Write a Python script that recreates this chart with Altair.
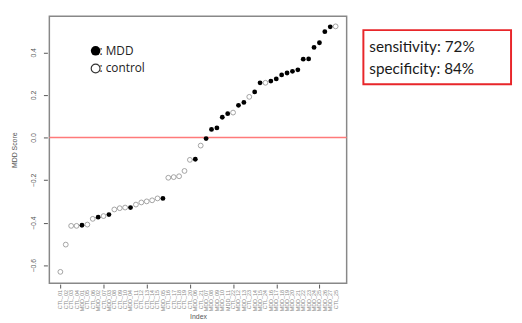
import altair as alt
import pandas as pd

# MDD score per sample, sorted ascending
scores = [-0.631, -0.503, -0.415, -0.415, -0.412, -0.409, -0.382, -0.374, -0.369, -0.362,
          -0.338, -0.332, -0.329, -0.329, -0.315, -0.305, -0.300, -0.295, -0.286, -0.286,
          -0.189, -0.186, -0.182, -0.157, -0.105, -0.102, -0.038, -0.005, 0.038, 0.045,
          0.095, 0.112, 0.117, 0.151, 0.165, 0.191, 0.214, 0.257, 0.257, 0.265,
          0.275, 0.294, 0.303, 0.311, 0.318, 0.368, 0.369, 0.423, 0.445, 0.497,
          0.520, 0.522]
# 1 = MDD (filled), 0 = control (open)
is_mdd = [0, 0, 0, 0, 1, 0, 0, 1, 0, 1,
          0, 0, 0, 1, 0, 0, 0, 0, 0, 1,
          0, 0, 0, 0, 0, 1, 0, 1, 1, 1,
          1, 1, 0, 1, 1, 0, 1, 1, 0, 1,
          1, 1, 1, 1, 1, 1, 1, 1, 1, 1,
          1, 0]
y_ticks = [-0.6, -0.4, -0.2, 0.0, 0.2, 0.4]
legend_labels = [": MDD", ": control"]
stats_text = ["sensitivity: 72%", "specificity: 84%"]

n = len(scores)
index = list(range(1, n + 1))
sample_labels = []
cm, cc = 0, 0
for m in is_mdd:
    if m:
        cm += 1
        sample_labels.append(f"MDD_{cm:02d}")
    else:
        cc += 1
        sample_labels.append(f"CTL_{cc:02d}")

df = pd.DataFrame({"Index": index, "score": scores,
                   "group": ["MDD" if m else "control" for m in is_mdd],
                   "label": sample_labels})

W, H = 302, 271

xscale = alt.Scale(domain=[1 - 0.04 * (n - 1), n + 0.04 * (n - 1)], nice=False, zero=False)
yscale = alt.Scale(domain=[-0.684, 0.569], nice=False, zero=False)

xaxis = alt.Axis(values=index, labels=False,
                 tickSize=4, tickColor="#555", tickWidth=1, offset=1, domain=False, grid=False,
                 title="Index", titleFontSize=7, titleFontWeight="normal", titleColor="#555",
                 titlePadding=24)
yaxis = alt.Axis(values=y_ticks, format=".1f", labelAngle=270, labelAlign="center",
                 labelBaseline="bottom", labelFontSize=7, labelColor="#555", labelPadding=7,
                 tickSize=4, tickColor="#555", offset=2, domain=False, grid=False,
                 title="MDD Score", titleFontSize=7, titleFontWeight="normal", titleColor="#555",
                 titlePadding=12)

base = alt.Chart(df)

ctrl = base.transform_filter("datum.group == 'control'").mark_point(
    shape="circle", filled=False, size=24, stroke="#999", strokeWidth=0.9, opacity=1
).encode(x=alt.X("Index:Q", scale=xscale, axis=xaxis),
         y=alt.Y("score:Q", scale=yscale, axis=yaxis))

mdd = base.transform_filter("datum.group == 'MDD'").mark_point(
    shape="circle", filled=True, size=24, color="#000", opacity=1
).encode(x=alt.X("Index:Q", scale=xscale), y=alt.Y("score:Q", scale=yscale))

xlabels = base.mark_text(
    angle=270, align="right", baseline="middle", fontSize=5.5, color="#888"
).encode(x=alt.X("Index:Q", scale=xscale), y=alt.value(H + 7), text="label:N")

zero_line = alt.Chart(pd.DataFrame({"v": [0.0]})).mark_rule(
    color="#ff7a7a", strokeWidth=1.5
).encode(y=alt.Y("v:Q", scale=yscale))

leg_df = pd.DataFrame({"lab": legend_labels})
leg_fill = alt.Chart(leg_df).transform_filter("datum.lab == ': MDD'").mark_point(
    shape="circle", filled=True, size=95, color="#000", opacity=1
).encode(x=alt.value(47), y=alt.value(35))
leg_open = alt.Chart(leg_df).transform_filter("datum.lab == ': control'").mark_point(
    shape="circle", filled=False, size=80, stroke="#333", strokeWidth=1.2, opacity=1
).encode(x=alt.value(47), y=alt.value(53))
leg_t1 = alt.Chart(leg_df).transform_filter("datum.lab == ': MDD'").mark_text(
    align="left", baseline="middle", fontSize=12, color="#222", font="Open Sans"
).encode(x=alt.value(51), y=alt.value(35), text="lab:N")
leg_t2 = alt.Chart(leg_df).transform_filter("datum.lab == ': control'").mark_text(
    align="left", baseline="middle", fontSize=12, color="#222", font="Open Sans"
).encode(x=alt.value(51), y=alt.value(53), text="lab:N")

box = alt.Chart(pd.DataFrame({"b": [1]})).mark_rect(
    fill="white", fillOpacity=0, stroke="#e8262a", strokeWidth=2
).encode(x=alt.value(319), x2=alt.value(469), y=alt.value(14), y2=alt.value(69))

st_df = pd.DataFrame({"t": stats_text})
st1 = alt.Chart(st_df).transform_filter(f"datum.t == '{stats_text[0]}'").mark_text(
    align="left", baseline="middle", fontSize=15.5, color="#1a1a1a", font="Lato"
).encode(x=alt.value(325), y=alt.value(31), text="t:N")
st2 = alt.Chart(st_df).transform_filter(f"datum.t == '{stats_text[1]}'").mark_text(
    align="left", baseline="middle", fontSize=15.5, color="#1a1a1a", font="Lato"
).encode(x=alt.value(325), y=alt.value(54), text="t:N")

chart = alt.layer(
    zero_line, ctrl, mdd, xlabels, leg_fill, leg_open, leg_t1, leg_t2, box, st1, st2
).properties(
    width=W, height=H,
    autosize=alt.AutoSizeParams(type="none"),
    padding={"left": 42, "top": 6, "right": 170, "bottom": 38},
    background="white",
).configure_view(
    stroke="#888", strokeWidth=1.5
)

chart.save("out.html", embed_options={"renderer": "svg", "actions": False})
